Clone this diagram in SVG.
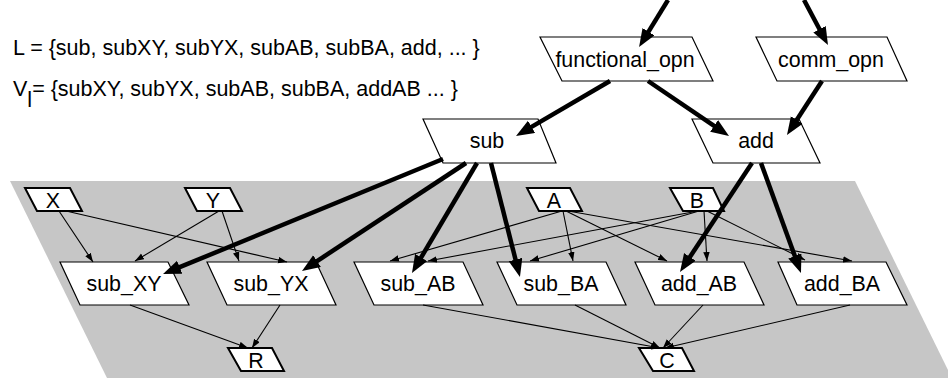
<svg xmlns="http://www.w3.org/2000/svg" width="948" height="383" viewBox="0 0 948 383">
  <style>
    text { font-family: "Liberation Sans", Arial, sans-serif; font-size: 21.4px; fill: #000; }
    .lbl { text-anchor: middle; }
    .node { fill: #fff; stroke: #000; stroke-width: 1.2; }
    .small { fill: #fff; stroke: #000; stroke-width: 2; }
    .thin { stroke: #000; stroke-width: 1.1; fill: none; marker-end: url(#ahThin); }
    .thick { stroke: #000; stroke-width: 4.5; fill: none; marker-end: url(#ahThick); }
  </style>
  <defs>
    <marker id="ahThin" markerUnits="userSpaceOnUse" markerWidth="10" markerHeight="7" refX="9" refY="3.25" orient="auto">
      <path d="M0,0 L9,3.25 L0,6.5 z" fill="#000"/>
    </marker>
    <marker id="ahThick" markerUnits="userSpaceOnUse" markerWidth="19" markerHeight="15" refX="4" refY="7" orient="auto">
      <path d="M0,0 L18,7 L0,14 z" fill="#000"/>
    </marker>
  </defs>

  <rect width="948" height="383" fill="#fff"/>

  <!-- instance plane -->
  <polygon points="10,181 855,181 952,378 107,378" fill="#c6c6c6"/>

  <!-- set definitions -->
  <text x="13" y="55" style="font-size:21.5px">L = {sub, subXY, subYX, subAB, subBA, add, ... }</text>
  <text x="13" y="96" style="font-size:21.5px">V<tspan dy="11">l</tspan><tspan dy="-11">= {subXY, subYX, subAB, subBA, addAB ... }</tspan></text>

  <!-- nodes -->
  <g id="functional_opn">
    <polygon class="node" points="540,37 692,37 713,81 562,81"/>
    <text class="lbl" x="625" y="67">functional_opn</text>
  </g>
  <g id="comm_opn">
    <polygon class="node" points="756,37 887,37 907,81 777,81"/>
    <text class="lbl" x="831" y="67">comm_opn</text>
  </g>
  <g id="sub">
    <polygon class="node" points="423,119 538,119 556,163 443,163"/>
    <text class="lbl" x="487" y="148">sub</text>
  </g>
  <g id="add">
    <polygon class="node" points="692,119 799,119 820,163 713,163"/>
    <text class="lbl" x="756" y="148">add</text>
  </g>

  <g id="X">
    <polygon class="small" points="25,188 70,188 82,211 37,211"/>
    <text class="lbl" x="53" y="208">X</text>
  </g>
  <g id="Y">
    <polygon class="small" points="185,188 230,188 242,211 197,211"/>
    <text class="lbl" x="213" y="208">Y</text>
  </g>
  <g id="A">
    <polygon class="small" points="527,188 570,188 582,211 539,211"/>
    <text class="lbl" x="554" y="208">A</text>
  </g>
  <g id="B">
    <polygon class="small" points="670,188 713,188 724,211 683,211"/>
    <text class="lbl" x="697" y="208">B</text>
  </g>

  <g id="sub_XY">
    <polygon class="node" points="60,262 168,262 189,305 80,305"/>
    <text class="lbl" x="124" y="291">sub_XY</text>
  </g>
  <g id="sub_YX">
    <polygon class="node" points="207,262 316,262 336,305 227,305"/>
    <text class="lbl" x="271" y="291">sub_YX</text>
  </g>
  <g id="sub_AB">
    <polygon class="node" points="354,262 463,262 483,305 374,305"/>
    <text class="lbl" x="418" y="291">sub_AB</text>
  </g>
  <g id="sub_BA">
    <polygon class="node" points="497,262 606,262 626,305 517,305"/>
    <text class="lbl" x="561" y="291">sub_BA</text>
  </g>
  <g id="add_AB">
    <polygon class="node" points="635,262 744,262 764,305 655,305"/>
    <text class="lbl" x="699" y="291">add_AB</text>
  </g>
  <g id="add_BA">
    <polygon class="node" points="778,262 886,262 907,305 797,305"/>
    <text class="lbl" x="842" y="291">add_BA</text>
  </g>

  <g id="R">
    <polygon class="small" points="228,348 272,348 284,371 241,371"/>
    <text class="lbl" x="256" y="368">R</text>
  </g>
  <g id="C">
    <polygon class="small" points="639,348 682,348 694,371 653,371"/>
    <text class="lbl" x="667" y="368">C</text>
  </g>

  <!-- connectors, drawn over the nodes so arrowheads stay visible -->
  <g id="connectors">
    <!-- thick: type hierarchy -->
    <line class="thick" x1="668" y1="0" x2="646.4" y2="35.1"/>
    <line class="thick" x1="804" y1="0" x2="821.4" y2="32.7"/>
    <line class="thick" x1="610" y1="81" x2="528.1" y2="128.9"/>
    <line class="thick" x1="648" y1="81" x2="717.4" y2="128.1"/>
    <line class="thick" x1="822" y1="81" x2="794.6" y2="123.3"/>
    <line class="thick" x1="443" y1="159" x2="176" y2="268.7"/>
    <line class="thick" x1="466" y1="163" x2="313.7" y2="263.3"/>
    <line class="thick" x1="477" y1="163" x2="419.1" y2="260.9"/>
    <line class="thick" x1="491" y1="163" x2="516.5" y2="263.4"/>
    <line class="thick" x1="752" y1="163" x2="687.7" y2="260.3"/>
    <line class="thick" x1="761" y1="163" x2="796.2" y2="259.8"/>

    <!-- thin: operands -->
    <line class="thin" x1="59" y1="211" x2="93" y2="262"/>
    <line class="thin" x1="66" y1="211" x2="287" y2="262"/>
    <line class="thin" x1="219" y1="211" x2="135" y2="261"/>
    <line class="thin" x1="222" y1="211" x2="239" y2="261"/>
    <line class="thin" x1="562" y1="211" x2="390" y2="261"/>
    <line class="thin" x1="563" y1="211" x2="573" y2="261"/>
    <line class="thin" x1="566" y1="211" x2="667" y2="261"/>
    <line class="thin" x1="568" y1="211" x2="852" y2="261"/>
    <line class="thin" x1="698" y1="211" x2="428" y2="261"/>
    <line class="thin" x1="699" y1="211" x2="530" y2="261"/>
    <line class="thin" x1="704" y1="211" x2="707" y2="261"/>
    <line class="thin" x1="707" y1="211" x2="805" y2="260"/>

    <!-- thin: results -->
    <line class="thin" x1="130" y1="305" x2="248" y2="348"/>
    <line class="thin" x1="280" y1="305" x2="252" y2="348"/>
    <line class="thin" x1="423" y1="305" x2="660" y2="348"/>
    <line class="thin" x1="575" y1="305" x2="660" y2="348"/>
    <line class="thin" x1="703" y1="305" x2="663" y2="348"/>
    <line class="thin" x1="850" y1="305" x2="665" y2="348"/>
  </g>
</svg>
